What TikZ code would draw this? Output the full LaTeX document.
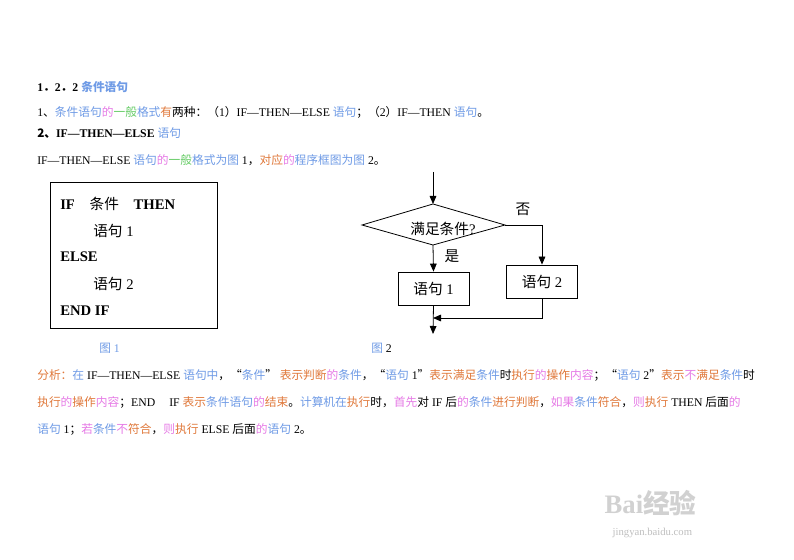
\documentclass[tikz,border=0pt]{standalone}
\usepackage{fontspec}
\setmainfont{Liberation Serif}
\newfontfamily\cjk{Noto Sans CJK SC}
\newcommand\zh[1]{{\cjk #1}}
\definecolor{bl}{HTML}{6F9BE6}
\definecolor{pk}{HTML}{E67BE6}
\definecolor{gr}{HTML}{66CC66}
\definecolor{og}{HTML}{E0783A}
\newcommand\zB[1]{{\color{bl}\cjk #1}}
\newcommand\zP[1]{{\color{pk}\cjk #1}}
\newcommand\zG[1]{{\color{gr}\cjk #1}}
\newcommand\zO[1]{{\color{og}\cjk #1}}
\usetikzlibrary{arrows.meta}
\begin{document}
\begin{tikzpicture}[x=0.75pt,y=-0.75pt,
  txt/.style={anchor=west,inner sep=0pt,font=\fontsize{8.8}{10}\selectfont},
  box/.style={draw,line width=0.6pt,minimum width=71*0.75pt,minimum height=33*0.75pt,font=\fontsize{11}{13}\selectfont},
  arr/.style={-{Triangle[length=6pt,width=5pt]},line width=0.6pt},
  ln/.style={line width=0.6pt}]
\path[fill=white] (0,0) rectangle (794,560);
\node[txt,font=\bfseries\fontsize{8.8}{10}\selectfont] (h1) at (37,87) {1\zh{．}2\zh{．}2 \zB{\bfseries 条件语句}};
\node[txt] (l2) at (37,112) {1\zh{、}\zB{条件语句}\zP{的}\zG{一般}\zB{格式}\zO{有}\zh{两种：（}1\zh{）}IF—THEN—ELSE \zB{语句}\zh{；（}2\zh{）}IF—THEN \zB{语句}\zh{。}};
\node[txt,font=\bfseries\fontsize{8.8}{10}\selectfont] (l3) at (37,133) {\zh{2、}IF—THEN—ELSE \zB{\mdseries 语句}};
\node[txt] (l4) at (37,160) {IF—THEN—ELSE \zB{语句}\zP{的}\zG{一般}\zB{格式为图} 1\zh{，}\zO{对应}\zP{的}\zB{程序框图为图} 2\zh{。}};
% code box
\node[draw,line width=0.8pt,minimum width=167*0.75pt,minimum height=146*0.75pt,anchor=north west] (cb) at (50,182) {};
\begin{scope}[every node/.style={anchor=west,inner sep=0pt,font=\fontsize{11}{13}\selectfont}]
\node (c1) at (60,204) {\textbf{IF}\hspace{1em}\zh{条件}\hspace{1em}\textbf{THEN}};
\node (c2) at (93,231) {\zh{语句} 1};
\node (c3) at (60,257) {\textbf{ELSE}};
\node (c4) at (93,284) {\zh{语句} 2};
\node (c5) at (60,311) {\textbf{END IF}};
\end{scope}
\node[txt] (f1) at (99,348) {\zB{图} {\color{bl}1}};
\node[txt] (f2) at (371,348) {\zB{图} 2};
% flowchart
\coordinate (s) at (433,172);
\coordinate (dt) at (433,204); \coordinate (dl) at (362,225);
\coordinate (dr) at (505,225); \coordinate (db) at (433,245);
\draw[ln] (dt)--(dr)--(db)--(dl)--cycle;
\node[font=\fontsize{11}{13}\selectfont] (dtx) at (443,229) {\zh{满足条件}?};
\draw[arr] (s)--(dt);
\node[box] (b1) at (433.5,288.5) {\zh{语句} 1};
\node[box] (b2) at (542,281.5) {\zh{语句} 2};
\draw[arr] (db)--(b1.north);
\draw[arr] (dr)-|(b2.north);
\coordinate (m) at (433,318);
\coordinate (e) at (433,334);
\draw[arr] (b2.south)|-(m);
\draw[arr] (b1.south)--(e);
\node[font=\fontsize{11}{13}\selectfont] (no) at (523,209) {\zh{否}};
\node[font=\fontsize{11}{13}\selectfont] (yes) at (452,256) {\zh{是}};
% analysis
\node[txt] (a1) at (37,375) {\zO{分析：}\zB{在} IF—THEN—ELSE \zB{语句中}\zh{，“}\zB{条件}\zh{”}\zO{ 表示判断}\zP{的}\zB{条件}\zh{，“}\zB{语句} 1\zh{”}\zO{表示满足}\zB{条件}\zh{时}\zO{执行}\zP{的}\zO{操作}\zP{内容}\zh{；“}\zB{语句} 2\zh{”}\zO{表示}\zP{不}\zO{满足}\zB{条件}\zh{时}};
\node[txt] (a2) at (37,402) {\zO{执行}\zP{的}\zO{操作}\zP{内容}\zh{；}END\hspace{1.2em}IF \zO{表示}\zB{条件语句}\zP{的}\zO{结束}\zh{。}\zB{计算机在}\zO{执行}\zh{时，}\zP{首先}\zh{对} IF \zh{后}\zP{的}\zB{条件}\zO{进行判断}\zh{，}\zP{如果}\zB{条件}\zO{符合}\zh{，}\zP{则}\zO{执行} THEN \zh{后面}\zP{的}};
\node[txt] (a3) at (37,429) {\zB{语句} 1\zh{；}\zP{若}\zB{条件}\zP{不}\zO{符合}\zh{，}\zP{则}\zO{执行} ELSE \zh{后面}\zP{的}\zB{语句} 2\zh{。}};
% watermark
\node[anchor=west,text=black!18,font=\bfseries\fontsize{20}{22}\selectfont] (wm) at (600,503) {Bai\zh{经验}};
\node[anchor=west,text=black!25,font=\fontsize{8}{9}\selectfont] (wm2) at (608,533) {jingyan.baidu.com};
\end{tikzpicture}
\end{document}
